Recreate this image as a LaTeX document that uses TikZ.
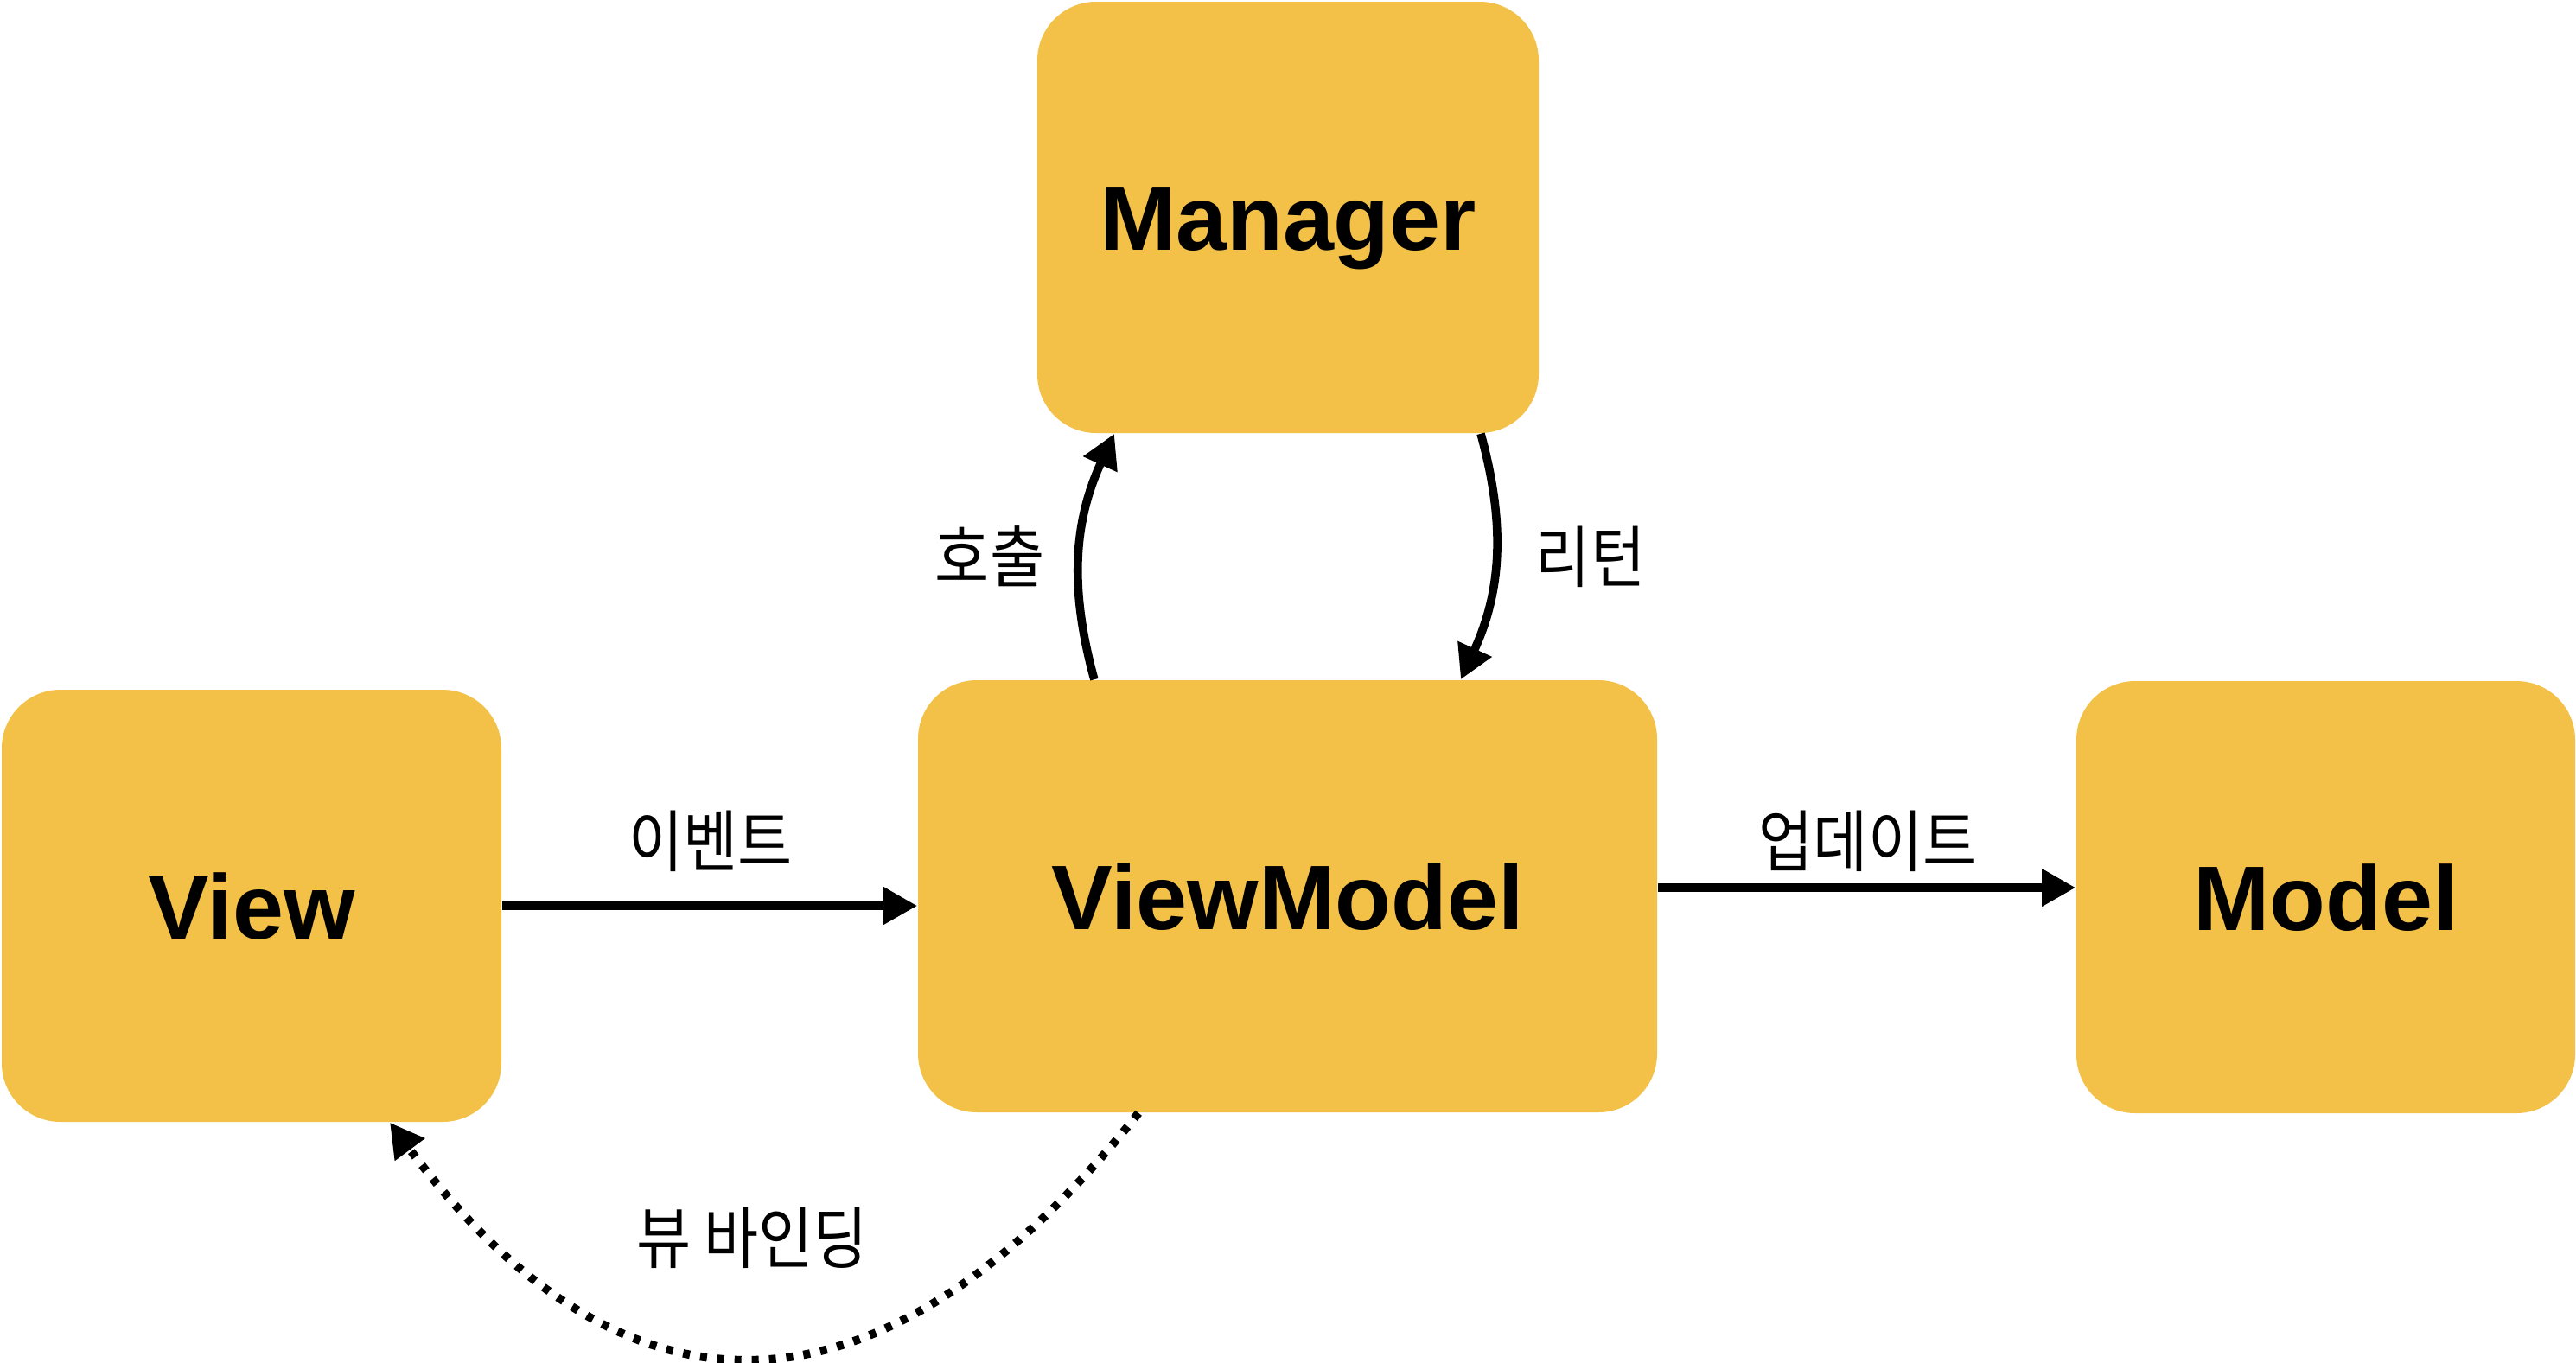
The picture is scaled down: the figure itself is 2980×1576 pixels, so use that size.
\documentclass[tikz,border=0pt]{standalone}
\usepackage{fontspec}
\usepackage{graphicx}
\setmainfont{Liberation Sans}
\newfontfamily\krfont{Noto Sans CJK KR}
\usetikzlibrary{arrows.meta}
\definecolor{boxyellow}{HTML}{F3C148}
\newcommand{\krtext}[1]{\scalebox{0.88}[1]{\krfont #1}}
\tikzset{
  box/.style={fill=boxyellow, rounded corners=17pt, inner sep=0pt,
    font=\fontsize{26.5}{30}\selectfont\bfseries, text height=19pt, text depth=0pt},
  lbl/.style={font=\fontsize{19.5}{22}\selectfont, inner sep=0pt},
  arr/.style={line width=2.4pt, -{Triangle[length=9.75pt,width=10.25pt]}},
  dotarr/.style={arr, dash pattern=on 2pt off 3pt},
}
\begin{document}
\begin{tikzpicture}[x=0.25pt,y=-0.25pt]
\useasboundingbox (0,0) rectangle (2980,1576);
\node[box, minimum width=145pt, minimum height=124.75pt] (mgr) at (1490,251.5) {Manager};
\node[box, minimum width=144.5pt, minimum height=125pt] (view) at (291,1048) {View};
\node[box, minimum width=213.75pt, minimum height=125pt] (vm) at (1489.5,1037) {ViewModel};
\node[box, minimum width=144.25pt, minimum height=125pt] (model) at (2690.5,1038) {Model};

% View -> ViewModel
\draw[arr] (view.east) -- (vm.west |- view.east);
% ViewModel -> Model
\coordinate (vmout) at ([yshift=2.5pt]vm.east);
\draw[arr] (vmout) -- (model.west |- vmout);
% call
\draw[arr] ([xshift=-55.9pt]vm.north) to[bend left=20] ([xshift=-50.25pt]mgr.south);
% return
\draw[arr] ([xshift=55.75pt]mgr.south) to[bend left=20] ([xshift=50.1pt]vm.north);
% view binding
\draw[dotarr] ([xshift=-43.1pt]vm.south) .. controls (1018,1662) and (721,1662) .. ([xshift=40pt]view.south);

\node[lbl] (levent) at (822,973) {\krtext{이벤트}};
\node[lbl] (lupdate) at (2161,973) {\krtext{업데이트}};
\node[lbl] (lcall) at (1145,644) {\krtext{호출}};
\node[lbl] (lreturn) at (1840,644) {\krtext{리턴}};
\node[lbl] (lbind) at (870,1432) {\krtext{뷰 바인딩}};
\end{tikzpicture}
\end{document}
